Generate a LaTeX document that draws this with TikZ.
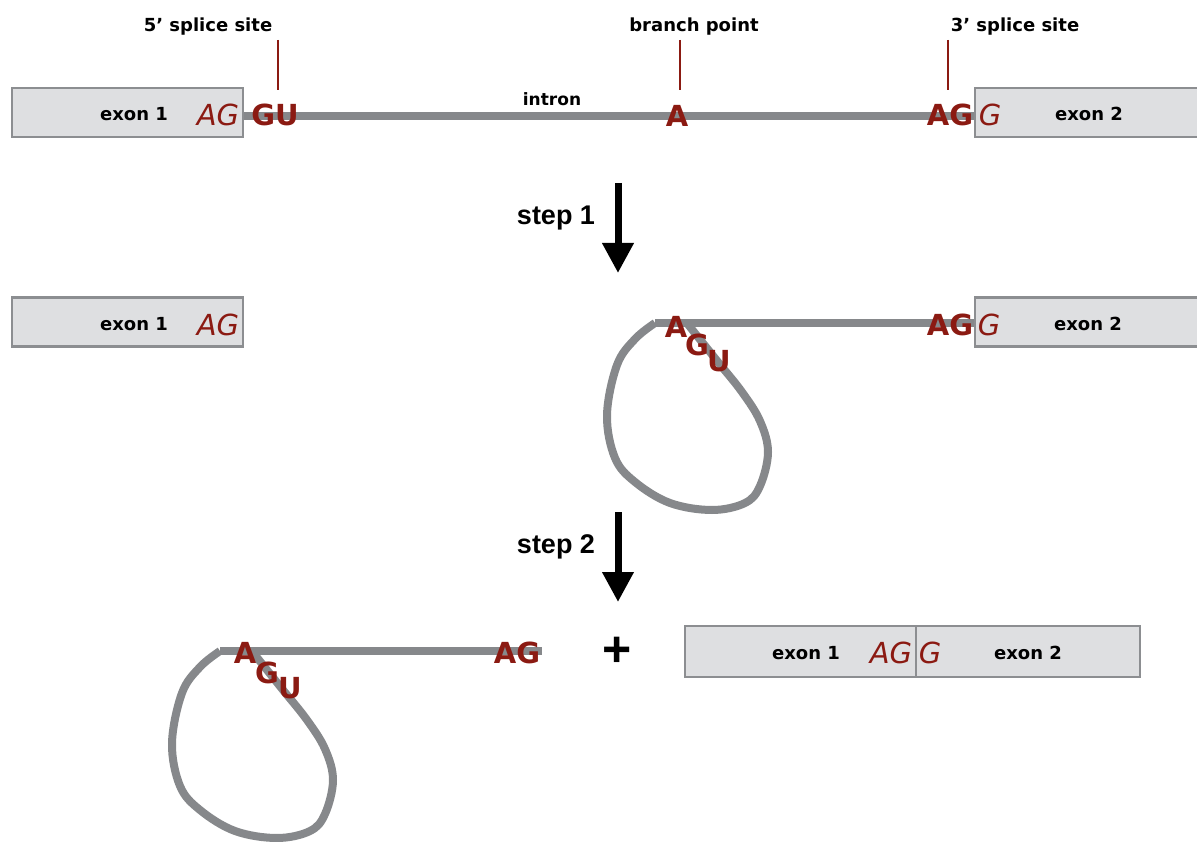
\documentclass[tikz,border=0pt]{standalone}
\usepackage{fontspec}
\setmainfont{DejaVu Sans}
\newfontfamily\helv{Liberation Sans}
\usetikzlibrary{arrows.meta}
\definecolor{boxfill}{HTML}{DEDFE1}
\definecolor{boxline}{HTML}{8C8E91}
\definecolor{rna}{HTML}{86888B}
\definecolor{nuc}{HTML}{8B1A12}
\begin{document}
\begin{tikzpicture}[x=1pt,y=-1pt,
  exon/.style={draw=boxline, fill=boxfill, line width=2.5pt, inner sep=0pt, minimum height=49pt},
  lbl/.style={font=\bfseries\fontsize{18}{22}\selectfont, inner sep=0pt},
  smalllbl/.style={font=\bfseries\fontsize{17}{20}\selectfont, inner sep=0pt},
  nucit/.style={text=nuc, font=\itshape\fontsize{29}{33}\selectfont, inner sep=0pt},
  nucbf/.style={text=nuc, font=\bfseries\fontsize{29}{33}\selectfont, inner sep=0pt},
  rnaline/.style={draw=rna, line width=8pt},
  tickline/.style={draw=nuc, line width=2pt},
  steparrow/.style={line width=7pt, -{Triangle[width=30pt,length=30pt]}},
  steplbl/.style={font=\helv\bfseries\fontsize{27}{31}\selectfont, inner sep=0pt},
  plussign/.style={font=\helv\bfseries\fontsize{50}{54}\selectfont, inner sep=0pt}
]
\useasboundingbox (0,0) rectangle (1197,842);
\clip (0,0) rectangle (1197,842);

% ---------- row 1: pre-mRNA ----------
\coordinate (i1a) at (243,116);
\coordinate (i1b) at (975,116);
\draw[rnaline] (i1a) -- (i1b);
\node[exon, minimum width=231pt] (e1a) at (127.5,112.5) {};
\node[exon, minimum width=240pt] (e2a) at (1095,112.5) {};
\node[lbl] (x1a) at (134,114) {exon 1};
\node[nucit] (ag1a) at (218,115) {AG};
\node[nucbf] (gu) at (275,115) {GU};
\node[smalllbl] (intr) at (552,99) {intron};
\node[nucbf] (bp) at (677,116) {A};
\node[nucbf] (ag3a) at (950,115) {AG};
\node[nucit] (g2a) at (990,115) {G};
\node[lbl] (x2a) at (1089,114) {exon 2};

\node[lbl] (l5) at (208,27) {5’ splice site};
\node[lbl] (lbp) at (694,27) {branch point};
\node[lbl] (l3) at (1015,27) {3’ splice site};
\coordinate (t5a) at (278,40);  \coordinate (t5b) at (278,90);
\coordinate (tba) at (680,40);  \coordinate (tbb) at (680,90);
\coordinate (t3a) at (948,40);  \coordinate (t3b) at (948,90);
\draw[tickline] (t5a) -- (t5b);
\draw[tickline] (tba) -- (tbb);
\draw[tickline] (t3a) -- (t3b);

% ---------- step 1 ----------
\coordinate (s1a) at (618,183);
\coordinate (s1b) at (618,273);
\draw[steparrow] (s1a) -- (s1b);
\node[steplbl] (st1) at (556,218) {step 1};

% ---------- row 2: lariat intermediate ----------
\node[exon, minimum width=231pt] (e1b) at (127.5,322) {};
\node[lbl] (x1b) at (134,324) {exon 1};
\node[nucit] (ag1b) at (218,325) {AG};

\coordinate (c2) at (655,323);
\coordinate (c2e) at (975,323);
\draw[rnaline] (c2) -- (c2e);
\begin{scope}[shift={(655,323)}]
  \draw[rnaline, line join=round] plot[smooth, tension=0.6] coordinates {(0,0) (-20,16) (-38,42) (-48,92) (-40,135) (-20,159) (15,180) (57,187) (90,180) (105,163) (113,129) (105,98) (87,69) (63,39) (39,9) (32,0)};
\end{scope}
\node[exon, minimum width=240pt] (e2b) at (1095,322) {};
\node[nucbf] (a2) at (676,327) {A};
\node[nucbf] (g2) at (697,345) {G};
\node[nucbf] (u2) at (719,361) {U};
\node[nucbf] (ag3b) at (950,325) {AG};
\node[nucit] (g2b) at (989,325) {G};
\node[lbl] (x2b) at (1088,324) {exon 2};

% ---------- step 2 ----------
\coordinate (s2a) at (618,512);
\coordinate (s2b) at (618,602);
\draw[steparrow] (s2a) -- (s2b);
\node[steplbl] (st2) at (556,547) {step 2};

% ---------- row 3: products ----------
\coordinate (c3) at (220,651);
\coordinate (c3e) at (542,651);
\draw[rnaline] (c3) -- (c3e);
\begin{scope}[shift={(220,651)}]
  \draw[rnaline, line join=round] plot[smooth, tension=0.6] coordinates {(0,0) (-20,16) (-38,42) (-48,92) (-40,135) (-20,159) (15,180) (57,187) (90,180) (105,163) (113,129) (105,98) (87,69) (63,39) (39,9) (32,0)};
\end{scope}
\node[nucbf] (a3) at (245,653) {A};
\node[nucbf] (g3) at (267,673) {G};
\node[nucbf] (u3) at (290,688) {U};
\node[nucbf] (ag3c) at (517,653) {AG};

\node[plussign] (plus) at (617,652) {+};

\node[exon, minimum width=231pt, minimum height=51pt] (e1c) at (800.5,651.5) {};
\node[exon, minimum width=224pt, minimum height=51pt] (e2c) at (1028,651.5) {};
\node[lbl] (x1c) at (806,653) {exon 1};
\node[nucit] (ag1c) at (891,653) {AG};
\node[nucit] (g2c) at (930,653) {G};
\node[lbl] (x2c) at (1028,653) {exon 2};
\end{tikzpicture}
\end{document}
